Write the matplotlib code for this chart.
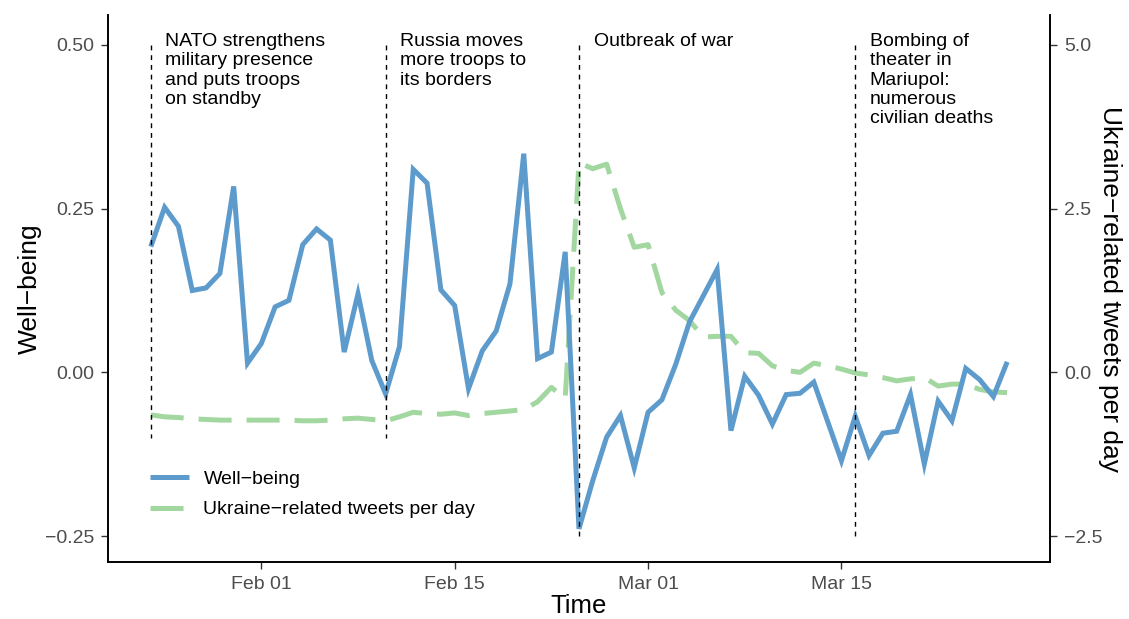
import matplotlib
matplotlib.use("Agg")
import matplotlib.pyplot as plt
import matplotlib.dates as mdates
import numpy as np
import pandas as pd

plt.rcParams['font.family'] = ['Liberation Sans', 'DejaVu Sans']

dates = pd.date_range("2022-01-24", periods=63, freq="D")

wellbeing = [0.192, 0.252, 0.223, 0.125, 0.129, 0.151, 0.284, 0.014, 0.044, 0.100,
             0.110, 0.195, 0.219, 0.202, 0.031, 0.120, 0.018, -0.033, 0.039, 0.310,
             0.289, 0.126, 0.102, -0.025, 0.033, 0.063, 0.135, 0.334, 0.021, 0.031,
             0.184, -0.239, -0.165, -0.099, -0.066, -0.146, -0.061, -0.042, 0.012, 0.077,
             0.117, 0.157, -0.089, -0.006, -0.035, -0.079, -0.034, -0.032, -0.015, -0.075,
             -0.135, -0.067, -0.127, -0.093, -0.090, -0.034, -0.140, -0.044, -0.074, 0.006,
             -0.011, -0.037, 0.016]

tweets = [-0.65, -0.68, -0.69, -0.71, -0.72, -0.73, -0.73, -0.73, -0.73, -0.73,
          -0.73, -0.74, -0.74, -0.73, -0.71, -0.70, -0.72, -0.74, -0.68, -0.61,
          -0.63, -0.64, -0.62, -0.66, -0.63, -0.61, -0.59, -0.57, -0.45, -0.23,
          -0.40, 3.20, 3.11, 3.18, 2.50, 1.91, 1.95, 1.22, 0.95, 0.79,
          0.54, 0.55, 0.55, 0.30, 0.29, 0.10, 0.03, 0.00, 0.14, 0.10,
          0.05, -0.01, -0.04, -0.08, -0.13, -0.10, -0.08, -0.21, -0.18, -0.18,
          -0.26, -0.30, -0.31]

event_dates = pd.to_datetime(["2022-01-24", "2022-02-10", "2022-02-24", "2022-03-16"])
event_bottoms = [-0.10, -0.10, -0.25, -0.25]
event_top = 0.50
event_labels = ["NATO strengthens\nmilitary presence\nand puts troops\non standby",
                "Russia moves\nmore troops to\nits borders",
                "Outbreak of war",
                "Bombing of\ntheater in\nMariupol:\nnumerous\ncivilian deaths"]

left_ticks = [-0.25, 0.00, 0.25, 0.50]
left_ticklabels = ["\u22120.25", "0.00", "0.25", "0.50"]
right_ticks = [-2.5, 0.0, 2.5, 5.0]
right_ticklabels = ["\u22122.5", "0.0", "2.5", "5.0"]
x_ticks = pd.to_datetime(["2022-02-01", "2022-02-15", "2022-03-01", "2022-03-15"])
x_ticklabels = ["Feb 01", "Feb 15", "Mar 01", "Mar 15"]

blue = "#5E9BCD"
green = "#A3D7A0"
gray = "#4D4D4D"

fig = plt.figure(figsize=(11.29, 6.19), dpi=100)
ax = fig.add_axes([108/1129, 1-562/619, (1050-108)/1129, (562-15)/619])
ax2 = ax.twinx()

lw = 3.6
ax2.plot(dates, tweets, color=green, lw=lw, linestyle=(0, (6.6, 3.0)),
         label="Ukraine\u2212related tweets per day", dash_capstyle='butt')
ax.plot(dates, wellbeing, color=blue, lw=lw, label="Well\u2212being",
        solid_joinstyle='miter', solid_capstyle='butt')

for d, b, lab in zip(event_dates, event_bottoms, event_labels):
    ax.plot([d, d], [event_top, b], color="black", lw=1.0, linestyle=(0, (3.5, 3.5)))
    ax.text(d + pd.Timedelta(days=1.05), 0.518, lab, va='top', ha='left',
            fontsize=14, linespacing=1.17, color="black")

ax.set_zorder(ax2.get_zorder() + 1)
ax.patch.set_visible(False)

x0 = dates[0] - pd.Timedelta(days=3.1)
x1 = dates[-1] + pd.Timedelta(days=3.1)
ax.set_xlim(x0, x1)
ax.set_ylim(-0.2897, 0.5458)
ax2.set_ylim(-2.897, 5.458)

ax.set_yticks(left_ticks)
ax.set_yticklabels(left_ticklabels)
ax2.set_yticks(right_ticks)
ax2.set_yticklabels(right_ticklabels)
ax.set_xticks(x_ticks)
ax.set_xticklabels(x_ticklabels)

for a in (ax, ax2):
    a.spines['top'].set_visible(False)
    for s in a.spines.values():
        s.set_linewidth(1.2)
    a.tick_params(axis='both', labelsize=14, labelcolor=gray, color="#333333",
                  length=5, width=1.0, pad=5)

ax.set_xlabel("Time", fontsize=18.5, labelpad=1)
ax.set_ylabel("Well\u2212being", fontsize=19, ha='center', va='center')
ax.yaxis.set_label_coords((30-108)/942, 0.5)
ax2.set_ylabel("Ukraine\u2212related tweets per day", fontsize=19, rotation=-90,
               ha='center', va='center')
ax2.yaxis.set_label_coords((1110-108)/942, 0.5)

h1, l1 = ax.get_legend_handles_labels()
h2, l2 = ax2.get_legend_handles_labels()
ax.legend(h1 + h2, l1 + l2, loc='upper left',
          bbox_to_anchor=((150-108)/942, (562-470)/547),
          frameon=False, fontsize=14, handlelength=2.0, handletextpad=0.75,
          labelspacing=0.68, borderpad=0, borderaxespad=0)

fig.savefig("out.png", dpi=100)
